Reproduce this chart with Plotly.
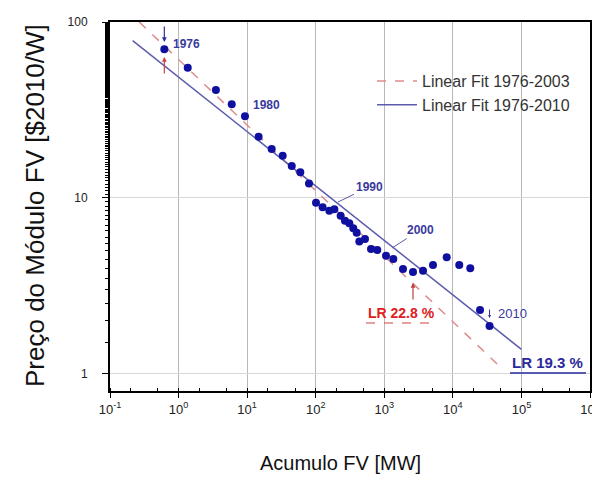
import numpy as np
import plotly.graph_objects as go

# ---- data ----
years = list(range(1976, 2011))
cum_mw = [0.62, 1.36, 3.5, 5.96, 9.3, 14.7, 22.8, 33.0, 44.7, 59.6,
          79.8, 101, 126, 158, 187, 231, 267, 309, 353, 396,
          432, 523, 640, 791, 1060, 1355, 1875, 2624, 3672, 5130,
          8130, 12400, 17950, 24900, 34270]
price = [70.0, 55.0, 41.1, 34.1, 29.1, 22.3, 19.0, 17.4, 15.2, 14.0,
         12.1, 9.4, 8.85, 8.47, 8.63, 7.93, 7.43, 7.18, 6.73, 6.35,
         5.65, 5.85, 5.13, 5.07, 4.70, 4.50, 3.95, 3.80, 3.86, 4.16,
         4.60, 4.16, 3.99, 2.31, 1.87]

fit2003_x = [0.267, 54450]
fit2003_y = [100, 1.054]
fit2010_x = [0.214, 100000]
fit2010_y = [78.3, 1.38]

x_ticks = [0.1, 1, 10, 100, 1000, 10000, 100000, 1000000]
x_ticktext = ["10<sup>-1</sup>", "10<sup>0</sup>", "10<sup>1</sup>", "10<sup>2</sup>",
              "10<sup>3</sup>", "10<sup>4</sup>", "10<sup>5</sup>", "10<sup>6</sup>"]
y_ticks = [1, 10, 100]
y_ticktext = ["1", "10", "100"]

# ---- layout geometry (page pixels; page body has an 8px margin) ----
OFF = 8
PAGE_W, PAGE_H = 600, 479
X0, X1, Y0, Y1 = 110, 590, 22, 391          # plot area on the page
W, H = PAGE_W - OFF, PAGE_H - OFF
L, R, T, B = X0 - OFF, W - (X1 - OFF), Y0 - OFF, H - (Y1 - OFF)
PW, PH = X1 - X0, Y1 - Y0


def px(xp):
    return (xp - X0) / PW


def py(yp):
    return (Y1 - yp) / PH


BLUE_TXT = "#3a3a9c"
FONT = "Arial, Liberation Sans, sans-serif"

fig = go.Figure()
fig.add_trace(go.Scatter(x=fit2003_x, y=fit2003_y, mode="lines",
                         line=dict(color="#e08c8c", width=1.5, dash="dash"),
                         name="Linear Fit 1976-2003"))
fig.add_trace(go.Scatter(x=fit2010_x, y=fit2010_y, mode="lines",
                         line=dict(color="#5c5cae", width=1.5),
                         name="Linear Fit 1976-2010"))
fig.add_trace(go.Scatter(x=cum_mw, y=price, mode="markers",
                         marker=dict(color="#1010a0", size=8),
                         text=[str(y) for y in years],
                         name="Preço", showlegend=False))

ann = []
lx = np.log10


def label(xp, yp, text, size, color, **kw):
    d = dict(x=px(xp), y=py(yp), xref="paper", yref="paper", text=text,
             xanchor="center", yanchor="middle", showarrow=False,
             font=dict(size=size, color=color, family=FONT))
    d.update(kw)
    return d


# 1976 arrows
ann.append(dict(x=lx(cum_mw[0]), y=py(42), xref="x", yref="paper", text="",
                showarrow=True, ax=0, ay=-17, arrowhead=2, arrowsize=0.8,
                arrowwidth=1.2, arrowcolor="#3030a0"))
ann.append(dict(x=lx(cum_mw[0]), y=py(57), xref="x", yref="paper", text="",
                showarrow=True, ax=0, ay=18, arrowhead=2, arrowsize=0.8,
                arrowwidth=1.2, arrowcolor="#d04040"))
ann.append(label(186, 44, "<b>1976</b>", 12, BLUE_TXT))
ann.append(label(266, 105, "<b>1980</b>", 12, BLUE_TXT))
# 1990 / 2000 leaders
ann.append(dict(x=px(338), y=py(202), xref="paper", yref="paper", text="<b>1990</b>",
                showarrow=True, ax=31, ay=-15, arrowhead=0, arrowwidth=1,
                arrowcolor="#5c5cae", font=dict(size=12, color=BLUE_TXT, family=FONT)))
ann.append(dict(x=px(392), y=py(248), xref="paper", yref="paper", text="<b>2000</b>",
                showarrow=True, ax=28, ay=-18, arrowhead=0, arrowwidth=1,
                arrowcolor="#5c5cae", font=dict(size=12, color=BLUE_TXT, family=FONT)))
# LR 22.8
ann.append(dict(x=lx(cum_mw[27]), y=py(283), xref="x", yref="paper", text="",
                showarrow=True, ax=0, ay=18, arrowhead=2, arrowsize=0.8,
                arrowwidth=1.2, arrowcolor="#c04040"))
ann.append(label(401, 313, "<b>LR 22.8 %</b>", 14, "#e02020"))
# 2010
ann.append(dict(x=lx(cum_mw[34]), y=py(318), xref="x", yref="paper", text="",
                showarrow=True, ax=0, ay=-10, arrowhead=2, arrowsize=0.6,
                arrowwidth=1, arrowcolor="#3030a0"))
ann.append(label(512, 313, "2010", 13, BLUE_TXT))
# LR 19.3
ann.append(label(547, 362, "<b>LR 19.3 %</b>", 15, "#2a2a9c"))
# axis titles
ann.append(label(340, 463, "Acumulo FV [MW]", 20, "#111"))
ann.append(label(35, 206, "Preço do Módulo FV [$2010/W]", 26, "#111", textangle=-90))

shapes = [
    dict(type="line", xref="paper", yref="paper", x0=px(366), x1=px(438), y0=py(323), y1=py(323),
         line=dict(color="#d04040", width=1.2, dash="dash")),
    dict(type="line", xref="paper", yref="paper", x0=px(510), x1=px(586), y0=py(373), y1=py(373),
         line=dict(color="#2a2a9c", width=1.5)),
]

fig.update_layout(
    width=W, height=H,
    margin=dict(l=L, r=R, t=T, b=B, autoexpand=False),
    paper_bgcolor="white", plot_bgcolor="white",
    font=dict(family=FONT, color="#222"),
    annotations=ann, shapes=shapes,
    legend=dict(x=px(372), y=py(64), xref="paper", yref="paper",
                xanchor="left", yanchor="top", bgcolor="rgba(0,0,0,0)",
                font=dict(size=16, color="#333", family=FONT),
                tracegroupgap=0, itemwidth=40),
)
fig.update_xaxes(type="log", range=[-1, 6], tickvals=x_ticks, ticktext=x_ticktext,
                 automargin=False,
                 showgrid=True, gridcolor="#b8b8b8", gridwidth=1,
                 showline=True, linecolor="black", linewidth=2, mirror=True,
                 ticks="outside", ticklen=5, tickcolor="black",
                 minor=dict(ticks="inside", ticklen=3, tickcolor="black", showgrid=False),
                 tickfont=dict(size=13, color="#222"),
                 zeroline=False)
fig.update_yaxes(type="log", range=[np.log10(0.8), 2], tickvals=y_ticks, ticktext=y_ticktext,
                 automargin=False,
                 showgrid=True, gridcolor="#d8d8d8", gridwidth=1,
                 showline=True, linecolor="black", linewidth=2, mirror=True,
                 ticks="outside", ticklen=6, tickcolor="black",
                 minor=dict(ticks="outside", ticklen=3, tickcolor="black", showgrid=False),
                 tickfont=dict(size=12, color="#222"), ticklabelstandoff=12,
                 zeroline=False)

fig.write_html("out.html")
